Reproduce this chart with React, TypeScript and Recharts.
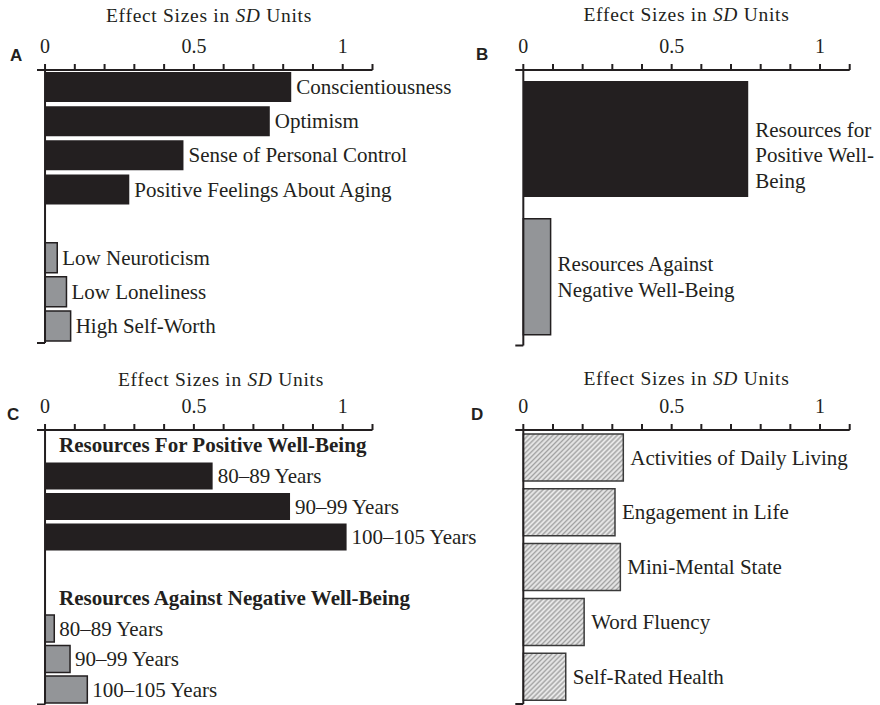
import React from 'react';
import { BarChart, Bar, XAxis, YAxis, ReferenceLine, LabelList, Cell, Customized } from 'recharts';

const SERIF = '"Liberation Serif", "Times New Roman", Times, serif';
const SANS = '"Liberation Sans", Arial, Helvetica, sans-serif';
const INK = '#231f20';
const GREY = '#939598';
const LABEL_SIZE = 21;

// shared axis
const axisTicks = [0, 0.1, 0.2, 0.3, 0.4, 0.5, 0.6, 0.7, 0.8, 0.9, 1, 1.1];
const labelledTicks = [0, 0.5, 1];
const axisDomain = [-0.027, 1.1];

// Panel A
const aLabels = ['Conscientiousness', 'Optimism', 'Sense of Personal Control', 'Positive Feelings About Aging', '', 'Low Neuroticism', 'Low Loneliness', 'High Self-Worth'];
const aValues = [0.827, 0.755, 0.465, 0.283, 0, 0.041, 0.072, 0.086];
const aKinds = ['pos', 'pos', 'pos', 'pos', 'gap', 'neg', 'neg', 'neg'];

// Panel B
const bLabels = [['Resources for', 'Positive Well-', 'Being'], ['Resources Against', 'Negative Well-Being']];
const bValues = [0.758, 0.092];
const bKinds = ['pos', 'neg'];

// Panel C
const cLabels = ['Resources For Positive Well-Being', '80–89 Years', '90–99 Years', '100–105 Years', '', 'Resources Against Negative Well-Being', '80–89 Years', '90–99 Years', '100–105 Years'];
const cValues = [0, 0.563, 0.823, 1.013, 0, 0, 0.031, 0.084, 0.142];
const cKinds = ['head', 'pos', 'pos', 'pos', 'gap', 'head', 'neg', 'neg', 'neg'];

// Panel D
const dLabels = ['Activities of Daily Living', 'Engagement in Life', 'Mini-Mental State', 'Word Fluency', 'Self-Rated Health'];
const dValues = [0.337, 0.309, 0.327, 0.205, 0.143];
const dKinds = ['hatch', 'hatch', 'hatch', 'hatch', 'hatch'];

const buildRows = (prefix: string, labels: any[], values: number[], kinds: string[]) =>
  values.map((v, i) => ({ id: prefix + i, label: labels[i], value: v, kind: kinds[i] }));

const fillFor = (kind: string) => {
  if (kind === 'pos') return INK;
  if (kind === 'neg') return GREY;
  if (kind === 'hatch') return 'url(#hatchD)';
  return 'none';
};
const strokeFor = (kind: string) => {
  if (kind === 'pos') return 'none';
  if (kind === 'neg') return INK;
  if (kind === 'hatch') return '#3a3a3a';
  return 'none';
};

const fmtTick = (v: number) => (labelledTicks.some((t) => Math.abs(t - v) < 1e-9) ? String(v) : '');

type PanelProps = {
  left: number;
  top: number;
  width: number;
  height: number;
  margin: { top: number; left: number; right: number; bottom: number };
  rows: any[];
  barSize: number;
  letter: string;
  letterX: number;
  letterY: number;
  titleX: number;
  titleY: number;
  labelOffset: number;
  multiLine?: boolean;
};

function Panel(p: PanelProps) {
  const lastId = p.rows[p.rows.length - 1].id;
  const byId: Record<string, any> = {};
  p.rows.forEach((r) => (byId[r.id] = r));

  const renderLabel = (props: any) => {
    const vb = props.viewBox || {};
    const x = props.x ?? vb.x;
    const y = props.y ?? vb.y;
    const w = props.width ?? vb.width;
    const h = props.height ?? vb.height;
    const row = byId[props.value];
    if (!row || !row.label || row.kind === 'head') return null;
    const cy = y + h / 2;
    const tx = x + w + p.labelOffset;
    if (p.multiLine) {
      const lines: string[] = row.label;
      const lh = 25.5;
      const shift = lines.length === 3 ? 16 : 0;
      const startY = cy + shift - ((lines.length - 1) * lh) / 2;
      return (
        <text fontFamily={SERIF} fontSize={LABEL_SIZE} fill={INK}>
          {lines.map((ln, i) => (
            <tspan key={i} x={tx} y={startY + i * lh} dy="0.34em">
              {ln}
            </tspan>
          ))}
        </text>
      );
    }
    return (
      <text x={tx} y={cy} dy="0.34em" fontFamily={SERIF} fontSize={LABEL_SIZE} fill={INK}>
        {row.label}
      </text>
    );
  };

  const renderHead = (text: string) => (props: any) => {
    const vb = props.viewBox || {};
    return (
      <text x={vb.x + 22} y={vb.y} dy="0.34em" fontFamily={SERIF} fontSize={LABEL_SIZE} fontWeight="bold" fill={INK}>
        {text}
      </text>
    );
  };

  const Decor = () => (
    <g>
      <text x={p.letterX} y={p.letterY} fontFamily={SANS} fontWeight="bold" fontSize={17} fill={INK}>
        {p.letter}
      </text>
      <text x={p.titleX} y={p.titleY} textAnchor="middle" fontFamily={SERIF} fontSize={19.5} letterSpacing={0.7} fill={INK}>
        Effect Sizes in <tspan fontStyle="italic">SD</tspan> Units
      </text>
    </g>
  );

  const heads = p.rows.filter((r) => r.kind === 'head');

  return (
    <div style={{ position: 'absolute', left: p.left, top: p.top, width: p.width, height: p.height }}>
      <BarChart width={p.width} height={p.height} data={p.rows} layout="vertical" margin={p.margin} barCategoryGap={0}>
        <XAxis
          type="number"
          orientation="top"
          domain={axisDomain}
          ticks={axisTicks}
          allowDataOverflow
          interval={0}
          tickFormatter={fmtTick}
          height={30}
          tickSize={6}
          tickMargin={11}
          axisLine={{ stroke: INK, strokeWidth: 2 }}
          tickLine={{ stroke: INK, strokeWidth: 2 }}
          tick={{ fill: INK, fontSize: 20, fontFamily: SERIF }}
        />
        <YAxis type="category" dataKey="id" hide />
        <Bar dataKey="value" barSize={p.barSize} isAnimationActive={false}>
          {p.rows.map((r, i) => (
            <Cell key={i} fill={fillFor(r.kind)} stroke={strokeFor(r.kind)} strokeWidth={1.5} />
          ))}
          <LabelList dataKey="id" content={renderLabel} />
        </Bar>
        {heads.map((r) => (
          <ReferenceLine key={r.id} y={r.id} stroke="none" ifOverflow="visible" label={renderHead(r.label)} />
        ))}
        <ReferenceLine x={0} stroke={INK} strokeWidth={2} ifOverflow="visible" />
        <ReferenceLine
          segment={[
            { x: axisDomain[0], y: lastId },
            { x: 0, y: lastId },
          ]}
          position="end"
          stroke={INK}
          strokeWidth={2}
          ifOverflow="visible"
        />
        <Customized component={Decor} />
      </BarChart>
    </div>
  );
}

const rowsA = buildRows('a', aLabels, aValues, aKinds);
const rowsB = buildRows('b', bLabels, bValues, bKinds);
const rowsC = buildRows('c', cLabels, cValues, cKinds);
const rowsD = buildRows('d', dLabels, dValues, dKinds);

export default function App() {
  return (
    <div style={{ position: 'absolute', left: 0, top: 0, width: 880, height: 705, background: '#fff', overflow: 'hidden' }}>
      <svg width={0} height={0} style={{ position: 'absolute' }}>
        <defs>
          <pattern id="hatchD" patternUnits="userSpaceOnUse" width={3.5} height={3.5} patternTransform="rotate(45)">
            <rect width={3.5} height={3.5} fill="#cdcdcd" />
            <line x1={0.5} y1={0} x2={0.5} y2={3.5} stroke="#eeeeee" strokeWidth={1} />
            <line x1={2.2} y1={0} x2={2.2} y2={3.5} stroke="#a2a2a2" strokeWidth={0.9} />
          </pattern>
        </defs>
      </svg>
      <Panel
        left={0}
        top={0}
        width={520}
        height={352}
        margin={{ top: 40, left: 37, right: 147.5, bottom: 9 }}
        rows={rowsA}
        barSize={30}
        letter="A"
        letterX={10}
        letterY={61}
        titleX={209}
        titleY={22}
        labelOffset={5}
      />
      <Panel
        left={440}
        top={0}
        width={440}
        height={352}
        margin={{ top: 40, left: 75.3, right: 30.3, bottom: 6.5 }}
        rows={rowsB}
        barSize={116}
        letter="B"
        letterX={36}
        letterY={60}
        titleX={246.5}
        titleY={21}
        labelOffset={7}
        multiLine
      />
      <Panel
        left={0}
        top={352}
        width={520}
        height={353}
        margin={{ top: 48, left: 37, right: 147.5, bottom: 0.5 }}
        rows={rowsC}
        barSize={27}
        letter="C"
        letterX={7}
        letterY={68}
        titleX={221}
        titleY={34}
        labelOffset={5}
      />
      <Panel
        left={440}
        top={352}
        width={440}
        height={353}
        margin={{ top: 48, left: 75.3, right: 30.3, bottom: 1 }}
        rows={rowsD}
        barSize={47}
        letter="D"
        letterX={31}
        letterY={68}
        titleX={246.5}
        titleY={33}
        labelOffset={7}
      />
    </div>
  );
}
